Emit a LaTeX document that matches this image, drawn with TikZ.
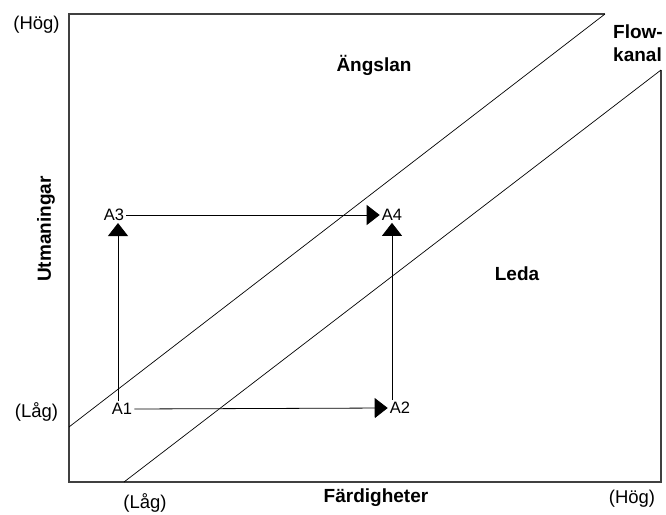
\documentclass[tikz,border=0pt]{standalone}
\usepackage{fontspec}
\setmainfont{Liberation Sans}
\usetikzlibrary{arrows.meta}

\begin{document}
\begin{tikzpicture}[x=1pt, y=1pt]
\tikzstyle{lbl}=[font=\fontsize{18.5}{21}\selectfont]
\tikzstyle{zone}=[font=\fontsize{19}{23}\selectfont\bfseries]
\tikzstyle{pt}=[inner sep=2pt, font=\fontsize{16.5}{19}\selectfont]
\tikzstyle{arr}=[-{Triangle[length=13pt, width=20pt]}, line width=0.8pt]
\useasboundingbox (0,0) rectangle (666,514);
% frame and flow channel
\draw[line width=1.4pt, black!75] (605,500) -- (69,500) -- (69,32) -- (661,32) -- (661,444);
\draw[line width=0.7pt] (69,87) -- (605,500);
\draw[line width=0.7pt] (124,32) -- (661,444);
% axis labels
\node[lbl] (hogY) at (36.5,489) {(Hög)};
\node[lbl] (lagY) at (36.5,102) {(Låg)};
\node[lbl] (lagX) at (145,11) {(Låg)};
\node[lbl] (hogX) at (632,15) {(Hög)};
\node[zone] (fard) at (376,16) {Färdigheter};
\node[zone, rotate=90] (utman) at (46,285) {Utmaningar};
% zones
\node[zone] (angslan) at (374,449) {Ängslan};
\node[zone] (leda) at (517,240) {Leda};
\node[zone, align=left] (flow) at (638,471) {Flow-\\kanal};
% activities
\node[pt] (A1) at (122,105) {A1};
\node[pt] (A2) at (400,106) {A2};
\node[pt] (A3) at (114,299) {A3};
\node[pt] (A4) at (392,299) {A4};
\draw[arr] (A1.east) -- (A2.west);
\draw[arr] ([xshift=-4pt]A1.north) -- ([xshift=4pt]A3.south);
\draw[arr] (A3.east) -- (A4.west);
\draw[arr] ([xshift=-8pt]A2.north) -- (A4.south);
\end{tikzpicture}
\end{document}
